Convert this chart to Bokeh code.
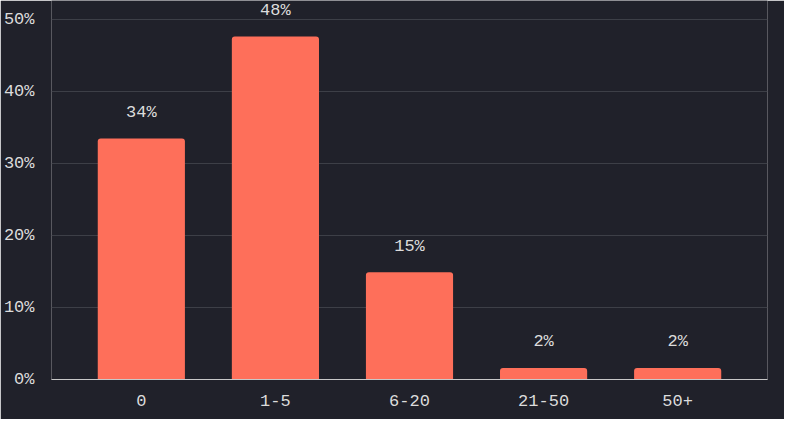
from bokeh.plotting import figure
from bokeh.models import ColumnDataSource, Range1d, FactorRange
from bokeh.core.properties import value
from bokeh.embed import file_html
from bokeh.resources import INLINE

# data
buckets = ["0", "1-5", "6-20", "21-50", "50+"]
shares = [33.5, 47.7, 14.9, 1.6, 1.6]
share_labels = ["34%", "48%", "15%", "2%", "2%"]

BG = "#20212a"
BAR = "#fe6f5a"
TEXT = "#dcdcdc"
MONO = "Liberation Mono"

source = ColumnDataSource(data=dict(bucket=buckets, share=shares, label=share_labels))

p = figure(width=784, height=419, output_backend="svg", toolbar_location=None,
           x_range=FactorRange(*buckets, range_padding=0.068), y_range=Range1d(0, 52.7),
           min_border_left=51, min_border_right=17, min_border_top=0, min_border_bottom=40)
p.background_fill_color = BG
p.border_fill_color = BG
p.outline_line_color = None

p.vbar(source=source, x="bucket", top="share", width=0.65, fill_color=BAR, line_color=None,
       border_radius=(3, 3, 0, 0))
p.text(source=source, x="bucket", y="share", text="label", y_offset=-26,
       text_align="center", text_baseline="middle", text_color=TEXT,
       text_font=value(MONO), text_font_size="17px")

p.xgrid.grid_line_color = None
p.ygrid.grid_line_color = "#3d3f47"
p.ygrid.grid_line_width = 1
p.yaxis.ticker = [0, 10, 20, 30, 40, 50]
p.yaxis.major_label_overrides = {v: f"{v}%" for v in [0, 10, 20, 30, 40, 50]}

for ax in (p.xaxis, p.yaxis):
    ax.major_tick_line_color = None
    ax.minor_tick_line_color = None
    ax.major_label_text_color = TEXT
    ax.major_label_text_font = MONO
    ax.major_label_text_font_size = "17px"
p.yaxis.axis_line_color = None
p.yaxis.major_label_standoff = 11
p.xaxis.axis_line_color = "#c8c8c8"
p.xaxis.axis_line_width = 1
p.xaxis.major_label_standoff = 9

open("out.html", "w").write(file_html(p, INLINE))
